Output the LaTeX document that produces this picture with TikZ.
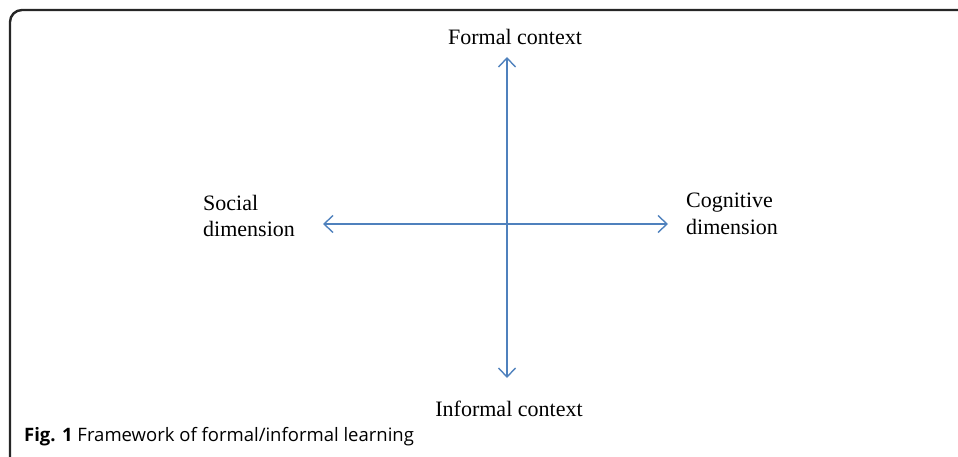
\documentclass[tikz,border=0pt]{standalone}
\usepackage{fontspec}
\setmainfont{Liberation Serif}
\newfontfamily\capfont{Open Sans}
\usetikzlibrary{arrows.meta}
\definecolor{axisblue}{RGB}{79,129,189}
\begin{document}
\begin{tikzpicture}[x=1pt,y=-1pt,
  axis/.style={draw=axisblue,line width=1.4pt,{Straight Barb[length=9pt,width=17pt,line width=1.4pt]}-{Straight Barb[length=9pt,width=17pt,line width=1.4pt]}},
  lbl/.style={font=\fontsize{22}{26.5}\selectfont,inner sep=0pt,align=left},
  frame/.style={draw=black!85,line width=2.4pt}]
\useasboundingbox (0,0) rectangle (958,457);
\draw[frame] (10,460) -- (10,22) arc[start angle=180,end angle=270,radius=12] -- (962,10);
\node[lbl,anchor=center] (top) at (515,37) {Formal context};
\node[lbl,anchor=center] (bot) at (509,409) {Informal context};
\node[lbl,anchor=west] (left) at (203,216) {Social\\dimension};
\node[lbl,anchor=west] (right) at (686,214) {Cognitive\\dimension};
\coordinate (vt) at (507,57);
\coordinate (vb) at (507,378);
\coordinate (hl) at (323,224);
\coordinate (hr) at (668,224);
\draw[axis] (vt) -- (vb);
\draw[axis] (hl) -- (hr);
\node[anchor=west,inner sep=0pt,font=\capfont\fontsize{18.5}{22}\selectfont] (cap) at (24,437) {\textbf{Fig. 1} Framework of formal/informal learning};
\end{tikzpicture}
\end{document}
